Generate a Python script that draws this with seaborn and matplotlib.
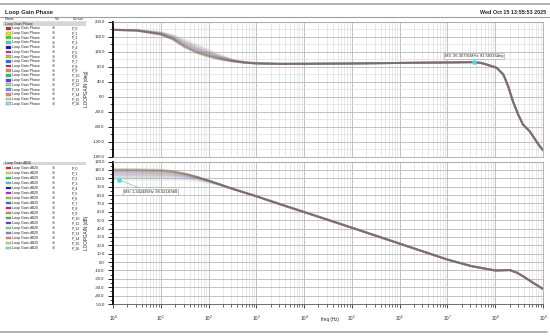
import numpy as np
import pandas as pd
import matplotlib.pyplot as plt
import matplotlib.ticker as mticker
from matplotlib.patches import Rectangle
from matplotlib.lines import Line2D
import seaborn as sns

sns.set_theme(style='white')
plt.rcParams['font.family'] = ['Liberation Sans', 'DejaVu Sans']

# ---- data ----
curves = ['P_%d' % i for i in range(17)]
colors = ['#e8202a', '#e6e62e', '#2ee62e', '#3ad6e6', '#1a1ab0', '#d21ed2',
          '#a6d62a', '#2a7ad2', '#d21e78', '#e6962a', '#2ac28a', '#8a2ae6',
          '#8ae68a', '#8a8ae6', '#e68a8a', '#d6d68a', '#8ae6e6']
# order the traces are painted in (last one ends up on top)
draw_order = ['P_16', 'P_15', 'P_14', 'P_13', 'P_12', 'P_3', 'P_1', 'P_5', 'P_7',
              'P_6', 'P_8', 'P_10', 'P_9', 'P_11', 'P_2', 'P_0', 'P_4']

# frequencies are given as decades (log10 of Hz)
phase_lo_dec = [0, 0.5, 1.0, 1.25, 1.5, 1.75, 2.0, 2.25, 2.5, 2.75, 3.0]
phase_lo = [
    [177.5, 175.5, 165.0, 152.0, 131.0, 116.0, 106.0, 98.5, 93.5, 90.0, 88.0],
    [177.5, 175.5, 165.1, 152.2, 131.4, 116.4, 106.3, 98.7, 93.6, 90.0, 88.0],
    [177.5, 175.6, 165.3, 152.6, 132.0, 117.0, 106.8, 99.1, 93.7, 90.1, 88.0],
    [177.6, 175.7, 165.6, 153.1, 132.8, 117.9, 107.5, 99.5, 94.0, 90.2, 88.1],
    [177.6, 175.8, 165.9, 153.6, 133.8, 118.9, 108.4, 100.1, 94.2, 90.3, 88.1],
    [177.7, 175.9, 166.2, 154.3, 134.9, 120.0, 109.3, 100.7, 94.5, 90.4, 88.2],
    [177.7, 176.0, 166.6, 155.0, 136.1, 121.3, 110.4, 101.4, 94.8, 90.6, 88.2],
    [177.8, 176.1, 167.0, 155.8, 137.4, 122.7, 111.5, 102.1, 95.1, 90.7, 88.3],
    [177.9, 176.2, 167.5, 156.6, 138.8, 124.1, 112.7, 102.9, 95.5, 90.9, 88.4],
    [177.9, 176.3, 167.9, 157.5, 140.2, 125.7, 114.0, 103.8, 95.8, 91.1, 88.4],
    [178.0, 176.5, 168.4, 158.4, 141.8, 127.3, 115.3, 104.6, 96.2, 91.2, 88.5],
    [178.1, 176.6, 169.0, 159.4, 143.5, 129.1, 116.8, 105.6, 96.6, 91.4, 88.6],
    [178.2, 176.8, 169.6, 160.5, 145.3, 131.0, 118.4, 106.6, 97.1, 91.6, 88.7],
    [178.2, 177.0, 170.1, 161.5, 147.1, 132.8, 119.9, 107.6, 97.5, 91.8, 88.7],
    [178.3, 177.1, 170.7, 162.7, 149.0, 134.9, 121.6, 108.8, 98.0, 92.1, 88.8],
    [178.4, 177.3, 171.4, 163.8, 151.0, 136.9, 123.3, 109.9, 98.5, 92.3, 88.9],
    [178.5, 177.5, 172.0, 165.0, 153.0, 139.0, 125.0, 111.0, 99.0, 92.5, 89.0],
]
phase_hi_dec = [3.5, 4.0, 5.0, 6.0, 7.0, 7.56, 7.7, 7.82, 8.03, 8.17, 8.27,
                8.37, 8.48, 8.58, 8.72, 8.93, 9.0]
phase_hi = [87.0, 87.2, 88.0, 89.5, 90.8, 91.6, 89.5, 85.3, 76.5, 58.7, 27.5,
            -12.5, -48.0, -74.7, -92.5, -132.5, -143.0]

db_lo_dec = [0, 0.5, 1.0, 1.25, 1.5, 1.75, 2.0, 2.25, 2.5]
db_lo = [
    [111.0, 110.9, 110.1, 108.7, 105.9, 101.9, 97.3, 92.4, 87.5],
    [110.8, 110.7, 110.0, 108.5, 105.8, 101.9, 97.3, 92.4, 87.5],
    [110.4, 110.3, 109.6, 108.3, 105.7, 101.9, 97.3, 92.4, 87.5],
    [109.9, 109.8, 109.2, 108.0, 105.5, 101.8, 97.3, 92.4, 87.5],
    [109.4, 109.3, 108.8, 107.7, 105.3, 101.7, 97.2, 92.4, 87.5],
    [108.7, 108.6, 108.2, 107.2, 105.1, 101.6, 97.2, 92.4, 87.5],
    [108.0, 108.0, 107.5, 106.7, 104.7, 101.4, 97.1, 92.4, 87.5],
    [107.2, 107.2, 106.8, 106.1, 104.3, 101.2, 97.1, 92.4, 87.5],
    [106.4, 106.4, 106.1, 105.5, 103.9, 101.0, 97.0, 92.3, 87.5],
    [105.5, 105.5, 105.2, 104.7, 103.4, 100.7, 96.9, 92.3, 87.4],
    [104.6, 104.6, 104.4, 104.0, 102.8, 100.4, 96.7, 92.2, 87.4],
    [103.6, 103.6, 103.4, 103.1, 102.1, 100.0, 96.6, 92.2, 87.4],
    [102.5, 102.5, 102.4, 102.1, 101.3, 99.5, 96.3, 92.1, 87.4],
    [101.5, 101.5, 101.4, 101.2, 100.5, 99.0, 96.0, 92.0, 87.3],
    [100.3, 100.3, 100.2, 100.0, 99.5, 98.3, 95.7, 91.8, 87.3],
    [99.2, 99.2, 99.1, 99.0, 98.6, 97.5, 95.3, 91.7, 87.2],
    [98.0, 98.0, 98.0, 97.9, 97.5, 96.7, 94.7, 91.4, 87.1],
]
db_hi_dec = [3.0, 3.5, 4.0, 5.0, 6.0, 7.0, 7.5, 8.0, 8.15, 8.3, 8.45, 8.6, 8.8, 9.0]
db_hi = [78.5, 69.0, 59.7, 41.0, 22.0, 3.0, -4.8, -10.0, -9.8, -9.5, -12.5,
         -17.5, -25.0, -32.0]

m3_freq, m3_val = 36.30791e6, 91.58336
m4_freq, m4_val = 1.342485, 98.02187


def long_table(lo_dec, lo_rows, hi_dec, hi_vals):
    rows = []
    for name, lo in zip(curves, lo_rows):
        for d, v in zip(lo_dec + hi_dec, lo + hi_vals):
            rows.append((name, 10.0 ** d, v))
    return pd.DataFrame(rows, columns=['curve', 'freq', 'value'])


phase_df = long_table(phase_lo_dec, phase_lo, phase_hi_dec, phase_hi)
db_df = long_table(db_lo_dec, db_lo, db_hi_dec, db_hi)

W, H = 550, 336
fig = plt.figure(figsize=(W / 100, H / 100), dpi=100)
fig.patch.set_facecolor('white')


def fx(x):
    return x / W


def fy(y):
    return 1 - y / H


ax1 = fig.add_axes([fx(113), fy(156.5), 430 / W, 135 / H])
ax2 = fig.add_axes([fx(113), fy(304), 430 / W, 142.5 / H])

for ax, df in [(ax1, phase_df), (ax2, db_df)]:
    sns.lineplot(data=df, x='freq', y='value', hue='curve',
                 palette=dict(zip(curves, colors)), hue_order=draw_order,
                 legend=False, errorbar=None, ax=ax, linewidth=1.4, alpha=0.2)
    ax.set_xscale('log')
    ax.set_xlim(1, 1e9)
    ax.xaxis.set_major_locator(mticker.LogLocator(base=10, numticks=12))
    ax.xaxis.set_minor_locator(mticker.LogLocator(base=10, subs=np.arange(2, 10), numticks=12))
    ax.grid(which='major', color='#b8b8b8', lw=0.6)
    ax.grid(which='minor', color='#dedede', lw=0.5)
    ax.set_axisbelow(True)
    for s in ['top', 'right', 'bottom']:
        ax.spines[s].set_color('#a8a8a8')
        ax.spines[s].set_linewidth(0.6)
    ax.spines['left'].set_color('black')
    ax.spines['left'].set_linewidth(1.3)
    ax.yaxis.set_major_formatter(mticker.FormatStrFormatter('%.1f'))
    ax.tick_params(axis='y', which='major', left=True, length=3.5, width=0.6,
                   color='black', labelsize=3.1, pad=2.5, labelcolor='#222')
    ax.tick_params(axis='y', which='minor', left=True, length=2, width=0.5, color='black')
    ax.set_xlabel('')

ax1.set_ylim(-160, 200)
ax1.yaxis.set_major_locator(mticker.MultipleLocator(40))
ax1.yaxis.set_minor_locator(mticker.MultipleLocator(20))
ax1.tick_params(axis='x', which='both', bottom=False, labelbottom=False)
ax1.set_ylabel('LOOPGAIN (deg)', fontsize=3.3, color='#222')
ax1.yaxis.set_label_coords(-0.055, 0.5)

ax2.set_ylim(-50, 120)
ax2.yaxis.set_major_locator(mticker.MultipleLocator(10))
ax2.yaxis.set_minor_locator(mticker.MultipleLocator(5))
ax2.grid(which='minor', axis='y', visible=False)
ax2.spines['bottom'].set_color('#555555')
ax2.tick_params(axis='x', which='major', bottom=True, length=3, width=0.6,
                color='#333', labelsize=3.3, pad=4, labelcolor='#222')
ax2.tick_params(axis='x', which='minor', bottom=True, length=2, width=0.5, color='#333')
ax2.set_ylabel('LOOPGAIN (dB)', fontsize=3.3, color='#222')
ax2.yaxis.set_label_coords(-0.055, 0.5)
fig.text(fx(330), fy(320), 'freq (Hz)', fontsize=3.3, ha='center', va='center', color='#222')

# markers
ax1.plot([m3_freq], [m3_val], marker='o', ms=2.4, color='#40e0e0', zorder=5)
ax1.annotate('M3: 36.30791MHz 91.58336deg', xy=(m3_freq, m3_val), xytext=(0, 3),
             textcoords='offset points', ha='center', va='bottom', fontsize=3.0,
             bbox=dict(boxstyle='square,pad=0.25', fc='white', ec='#999999', lw=0.4))
ax2.plot([m4_freq], [m4_val], marker='o', ms=2.4, color='#40e0e0', zorder=5)
ax2.annotate('M4: 1.342485Hz 98.02187dB', xy=(m4_freq, m4_val), xytext=(3.5, -9),
             textcoords='offset points', ha='left', va='center', fontsize=3.0,
             arrowprops=dict(arrowstyle='-', color='#999999', lw=0.4),
             bbox=dict(boxstyle='square,pad=0.25', fc='white', ec='#999999', lw=0.4))

# page decorations
fig.add_artist(Line2D([0, 1], [fy(4), fy(4)], color='#b0b0b0', lw=1.4))
fig.add_artist(Line2D([0, 1], [fy(16.5), fy(16.5)], color='#a0a0a0', lw=0.8))
fig.add_artist(Line2D([0, fx(547)], [fy(331.5), fy(331.5)], color='#b0b0b0', lw=1.4))
fig.text(fx(5), fy(12.5), 'Loop Gain Phase', fontsize=4.2, fontweight='bold', va='center')
fig.text(fx(546), fy(12.5), 'Wed Oct 15 13:55:53 2025', fontsize=3.9,
         fontweight='bold', va='center', ha='right')

# trace list on the left
fs = 2.6
fig.text(fx(5), fy(18.5), 'Name', fontsize=fs, va='center')
fig.text(fx(55), fy(18.5), 'Vis', fontsize=fs, va='center')
fig.text(fx(73), fy(18.5), 'Cursor', fontsize=fs, va='center')
fig.add_artist(Line2D([fx(3), fx(86)], [fy(20.5), fy(20.5)], color='#c8c8c8', lw=0.4))


def trace_list(y0, step, group, label):
    fig.add_artist(Rectangle((fx(3), fy(y0 + 1.8)), 83 / W, 3.6 / H,
                             transform=fig.transFigure, fc='#d6d6d6', ec='none'))
    fig.text(fx(5), fy(y0), group, fontsize=fs, va='center')
    for k, (name, col) in enumerate(zip(curves, colors)):
        y = y0 + 4.4 + step * k
        fig.add_artist(Rectangle((fx(6), fy(y + 1.4)), 4.5 / W, 2.8 / H,
                                 transform=fig.transFigure, fc=col, ec='#555', lw=0.2))
        fig.text(fx(12), fy(y), label, fontsize=fs, va='center', color='#222')
        fig.text(fx(52), fy(y), '\u2295', fontsize=fs, va='center', color='#666',
                 family=['DejaVu Sans'])
        fig.text(fx(72), fy(y), name, fontsize=fs, va='center', color='#222')


trace_list(24.0, 4.7, 'Loop Gain Phase', 'Loop Gain Phase')
trace_list(163.5, 5.0, 'Loop Gain dB20', 'Loop Gain dB20')

fig.savefig('out.png', dpi=100, facecolor='white')
